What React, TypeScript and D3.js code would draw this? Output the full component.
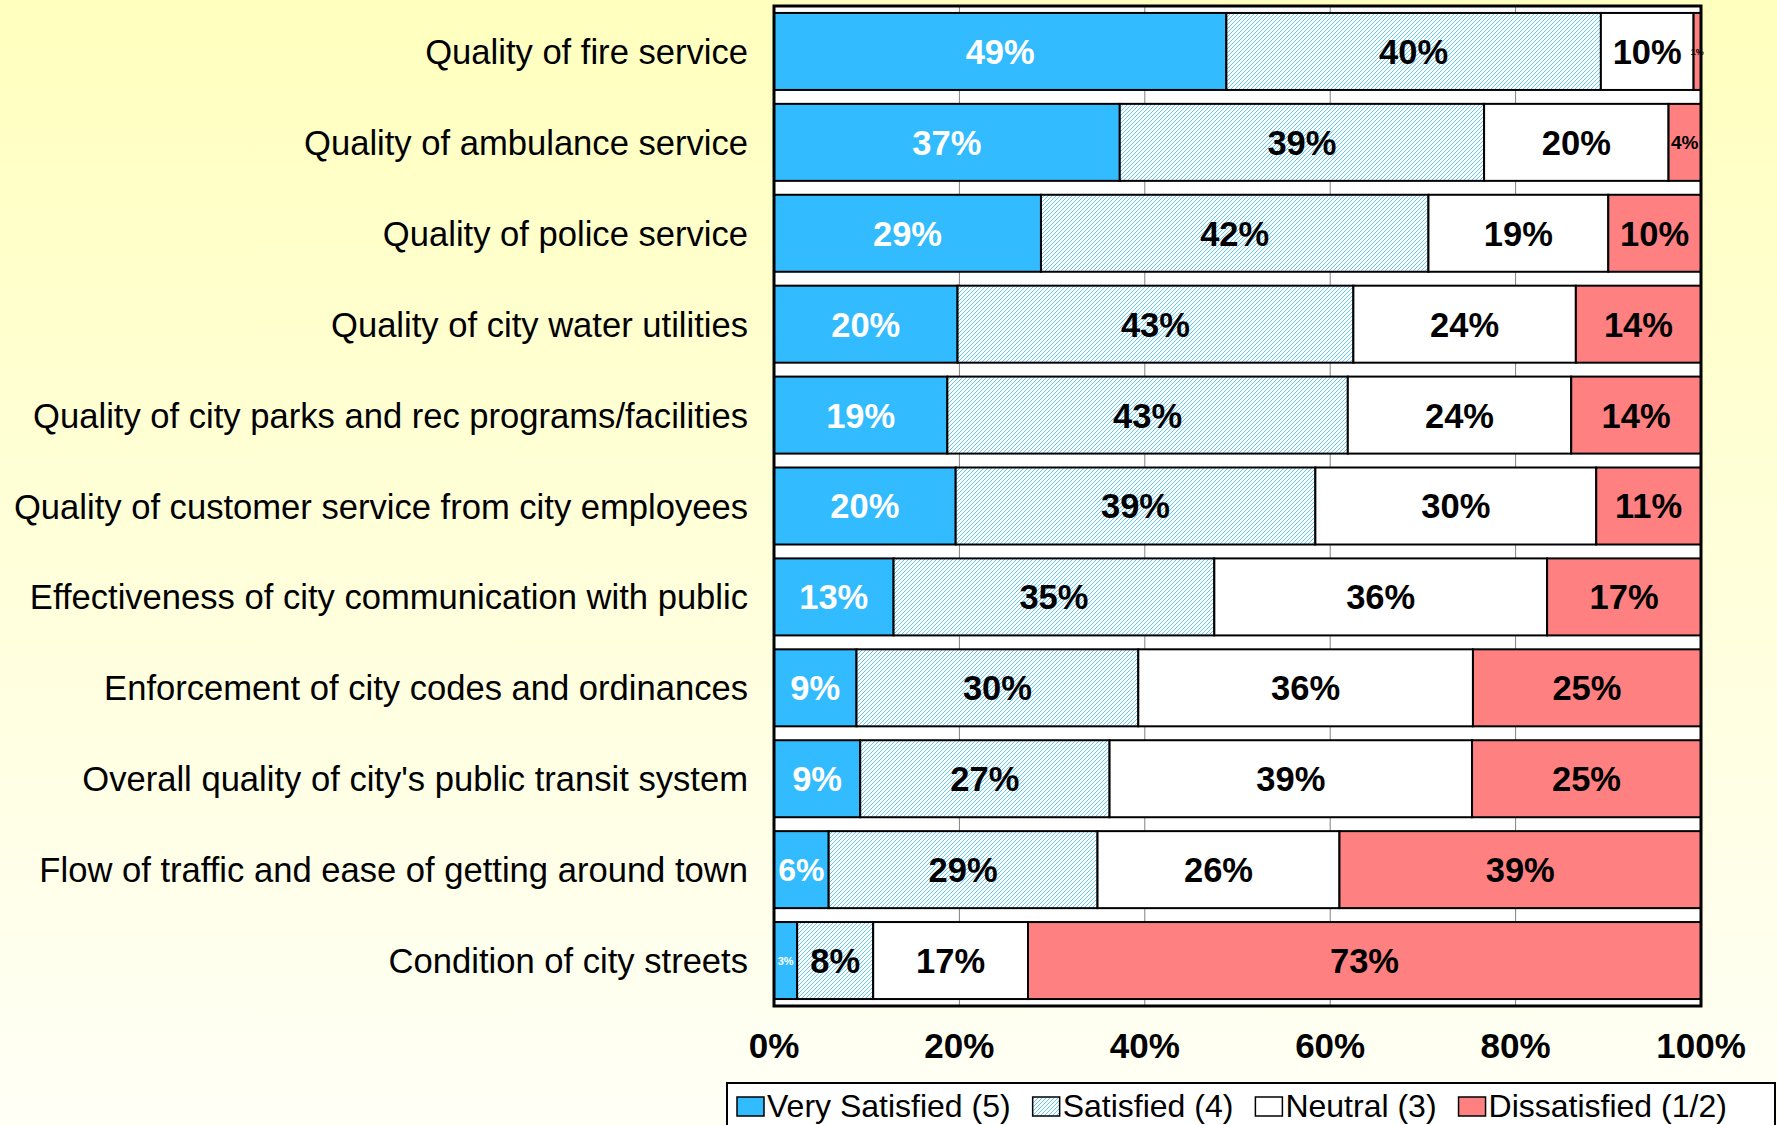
import React, { useEffect, useRef } from "react";
import * as d3 from "d3";

const categories = [
  "Quality of fire service",
  "Quality of ambulance service",
  "Quality of police service",
  "Quality of city water utilities",
  "Quality of city parks and rec programs/facilities",
  "Quality of customer service from city employees",
  "Effectiveness of city communication with public",
  "Enforcement of city codes and ordinances",
  "Overall quality of city's public transit system",
  "Flow of traffic and ease of getting around town",
  "Condition of city streets",
];
const verySatisfied = [48.8, 37.3, 28.8, 19.8, 18.7, 19.6, 12.9, 8.9, 9.3, 5.9, 2.5];
const satisfied = [40.4, 39.3, 41.8, 42.7, 43.2, 38.8, 34.6, 30.4, 26.9, 29.0, 8.2];
const neutral = [10.0, 19.9, 19.4, 24.0, 24.1, 30.3, 35.9, 36.1, 39.1, 26.1, 16.7];
const dissatisfied = [0.8, 3.5, 10.0, 13.5, 14.0, 11.3, 16.6, 24.6, 24.7, 39.0, 72.6];
const seriesKeys = ["verySatisfied", "satisfied", "neutral", "dissatisfied"];
const seriesNames = ["Very Satisfied (5)", "Satisfied (4)", "Neutral (3)", "Dissatisfied (1/2)"];
const xTicks = [0, 0.2, 0.4, 0.6, 0.8, 1];

const W = 1777;
const H = 1125;
const FONT = "'Liberation Sans', Arial, Helvetica, sans-serif";
const BLUE = "#33BBFF";
const PINK = "#FF8080";

function labelSize(v: number) {
  if (v < 1.5) return 9;
  if (v < 3) return 11;
  if (v < 5) return 19;
  if (v < 7) return 32;
  return 34.5;
}

export default function App() {
  const ref = useRef<SVGSVGElement>(null);

  useEffect(() => {
    document.body.style.margin = "0";
    const svg = d3.select(ref.current);
    svg.selectAll("*").remove();

    const defs = svg.append("defs");
    const grad = defs
      .append("linearGradient")
      .attr("id", "bg")
      .attr("x1", 0)
      .attr("y1", 0)
      .attr("x2", 0)
      .attr("y2", 1);
    grad.append("stop").attr("offset", "0%").attr("stop-color", "#FFFFBE");
    grad.append("stop").attr("offset", "100%").attr("stop-color", "#FFFFF6");

    const pat = defs
      .append("pattern")
      .attr("id", "hatch")
      .attr("patternUnits", "userSpaceOnUse")
      .attr("width", 4)
      .attr("height", 4);
    pat.append("rect").attr("width", 4).attr("height", 4).attr("fill", "#fff");
    pat
      .append("path")
      .attr("d", "M-1,1 L1,-1 M0,4 L4,0 M3,5 L5,3")
      .attr("stroke", BLUE)
      .attr("stroke-width", 0.8);

    const fills = [BLUE, "url(#hatch)", "#FFFFFF", PINK];

    svg.append("rect").attr("width", W).attr("height", H).attr("fill", "url(#bg)");

    const table = categories.map((c, i) => ({
      category: c,
      verySatisfied: verySatisfied[i],
      satisfied: satisfied[i],
      neutral: neutral[i],
      dissatisfied: dissatisfied[i],
    }));

    const x0 = 774;
    const x1 = 1701;
    const y0 = 6;
    const y1 = 1006;
    const x = d3.scaleLinear().domain([0, 1]).range([x0, x1]);
    const y = d3
      .scaleBand<string>()
      .domain(categories)
      .range([y0, y1])
      .paddingInner(0.153)
      .paddingOuter(0.0765);

    svg
      .append("rect")
      .attr("x", x0)
      .attr("y", y0)
      .attr("width", x1 - x0)
      .attr("height", y1 - y0)
      .attr("fill", "#fff");

    svg
      .append("g")
      .selectAll("line")
      .data(xTicks.slice(1, -1))
      .join("line")
      .attr("x1", (d) => x(d))
      .attr("x2", (d) => x(d))
      .attr("y1", y0)
      .attr("y2", y1)
      .attr("stroke", "#808080")
      .attr("stroke-width", 1);

    const stack = d3
      .stack<any>()
      .keys(seriesKeys)
      .offset(d3.stackOffsetExpand);
    const layers = stack(table);

    const gBars = svg.append("g");
    layers.forEach((layer, si) => {
      gBars
        .append("g")
        .selectAll("rect")
        .data(layer)
        .join("rect")
        .attr("x", (d) => x(d[0]))
        .attr("y", (d) => y(d.data.category)!)
        .attr("width", (d) => x(d[1]) - x(d[0]))
        .attr("height", y.bandwidth())
        .attr("fill", fills[si])
        .attr("stroke", "#000")
        .attr("stroke-width", 2);
    });

    const gLab = svg.append("g");
    layers.forEach((layer, si) => {
      gLab
        .append("g")
        .selectAll("text")
        .data(layer)
        .join("text")
        .attr("x", (d) => (x(d[0]) + x(d[1])) / 2)
        .attr("y", (d) => {
          const v = d.data[seriesKeys[si]];
          return y(d.data.category)! + y.bandwidth() / 2 + labelSize(v) * 0.36;
        })
        .attr("text-anchor", "middle")
        .attr("font-family", FONT)
        .attr("font-weight", "bold")
        .attr("font-size", (d) => labelSize(d.data[seriesKeys[si]]))
        .attr("fill", si === 0 ? "#fff" : "#000")
        .text((d) => Math.round(d.data[seriesKeys[si]]) + "%");
    });

    svg
      .append("rect")
      .attr("x", x0)
      .attr("y", y0)
      .attr("width", x1 - x0)
      .attr("height", y1 - y0)
      .attr("fill", "none")
      .attr("stroke", "#000")
      .attr("stroke-width", 3);

    svg
      .append("g")
      .selectAll("text")
      .data(categories)
      .join("text")
      .attr("x", 748)
      .attr("y", (d) => y(d)! + y.bandwidth() / 2 + 12.5)
      .attr("text-anchor", "end")
      .attr("font-family", FONT)
      .attr("font-size", 34.6)
      .attr("fill", "#000")
      .text((d) => d);

    svg
      .append("g")
      .selectAll("text")
      .data(xTicks)
      .join("text")
      .attr("x", (d) => x(d))
      .attr("y", 1058)
      .attr("text-anchor", "middle")
      .attr("font-family", FONT)
      .attr("font-weight", "bold")
      .attr("font-size", 35)
      .attr("fill", "#000")
      .text(d3.format(".0%"));

    const leg = svg.append("g");
    leg
      .append("rect")
      .attr("x", 727)
      .attr("y", 1083)
      .attr("width", 1048)
      .attr("height", 70)
      .attr("fill", "#fff")
      .attr("stroke", "#000")
      .attr("stroke-width", 2);
    let cx = 737;
    seriesNames.forEach((name, i) => {
      leg
        .append("rect")
        .attr("x", cx)
        .attr("y", 1097)
        .attr("width", 27)
        .attr("height", 19)
        .attr("fill", fills[i])
        .attr("stroke", "#000")
        .attr("stroke-width", 1.5);
      const t = leg
        .append("text")
        .attr("x", cx + 30)
        .attr("y", 1117)
        .attr("font-family", FONT)
        .attr("font-size", 32)
        .attr("fill", "#000")
        .text(name);
      const w = (t.node() as SVGTextElement).getComputedTextLength();
      cx = cx + 30 + w + 22;
    });
  }, []);

  return (
    <svg
      ref={ref}
      width={W}
      height={H}
      style={{ display: "block", position: "absolute", left: 0, top: 0 }}
    />
  );
}
